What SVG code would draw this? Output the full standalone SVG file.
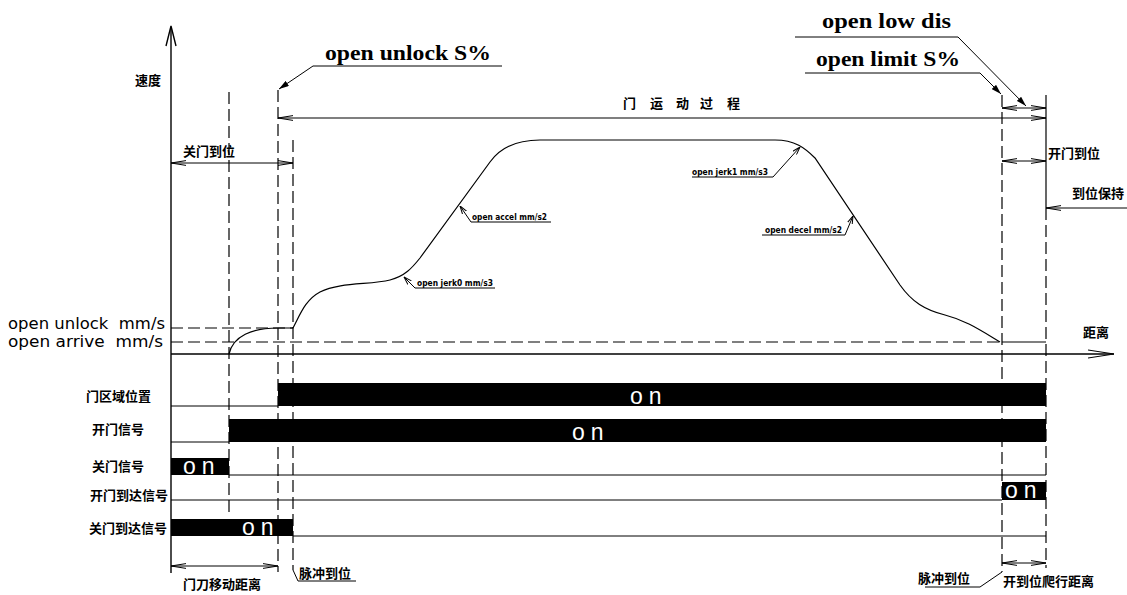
<svg xmlns="http://www.w3.org/2000/svg" width="1127" height="595" viewBox="0 0 1127 595">
<defs>
<style>
.ln{stroke:#000;stroke-width:1.2;fill:none}
.ax{stroke:#000;stroke-width:1.4;fill:none}
.ds{stroke:#000;stroke-width:1.2;fill:none;stroke-dasharray:12 5}
.th{stroke:#000;stroke-width:1;fill:none}
.bar{fill:#000}
.cn{font-family:"Noto Sans CJK SC","Noto Sans",sans-serif;font-size:13px;font-weight:bold;fill:#000}
.big{font-family:"Liberation Serif",serif;font-size:22px;fill:#000;font-weight:bold}
.sm{font-family:"DejaVu Sans",sans-serif;font-size:8px;font-weight:bold;fill:#000}
.lv{font-family:"DejaVu Sans",sans-serif;font-size:15px;fill:#000}
.on{font-family:"Liberation Sans",sans-serif;font-size:23px;fill:#fff;letter-spacing:6px}
</style>
<marker id="oa" viewBox="0 0 15 6" refX="15" refY="3" markerWidth="15" markerHeight="6" markerUnits="userSpaceOnUse" orient="auto-start-reverse">
<path d="M0,0.6 L15,3 L0,5.4" fill="none" stroke="#000" stroke-width="1"/>
</marker>
<marker id="fa" viewBox="0 0 10 6" refX="10" refY="3" markerWidth="10" markerHeight="6" markerUnits="userSpaceOnUse" orient="auto">
<path d="M0,0 L10,3 L0,6 z" fill="#000"/>
</marker>
<marker id="sa" viewBox="0 0 8 6" refX="8" refY="3" markerWidth="8" markerHeight="6" markerUnits="userSpaceOnUse" orient="auto">
<path d="M0,0.5 L8,3 L0,5.5" fill="none" stroke="#000" stroke-width="1"/>
</marker>
<marker id="axa" viewBox="0 0 26 10" refX="26" refY="5" markerWidth="26" markerHeight="10" markerUnits="userSpaceOnUse" orient="auto">
<path d="M0,1 L26,5 L0,9" fill="none" stroke="#000" stroke-width="1.2"/>
</marker>
</defs>
<rect width="1127" height="595" fill="#fff"/>

<g id="axes">
<line class="ax" x1="171" y1="573" x2="171" y2="27"/>
<path class="ax" d="M166,46 L171,26 L176,46"/>
<line class="ax" x1="171" y1="354" x2="1114" y2="354" marker-end="url(#axa)"/>
<text class="cn" x="135" y="85">速度</text>
<text class="cn" x="1083" y="337">距离</text>
</g>

<g id="connectors">
<line class="ds" x1="229" y1="92" x2="229" y2="515"/>
<line class="ds" x1="278" y1="90" x2="278" y2="572"/>
<line class="ds" x1="293" y1="140" x2="293" y2="570"/>
<polyline class="th" points="293,570 298,581 356,581"/>
<line class="ds" x1="1002" y1="95" x2="1002" y2="572"/>
<polyline class="th" points="925,587 980,587 1002,572"/>
<line class="ln" x1="1046" y1="95" x2="1046" y2="208"/>
<line class="ds" x1="1046" y1="208" x2="1046" y2="568"/>
<line class="ds" x1="171" y1="328" x2="293" y2="328"/>
<line class="ds" x1="171" y1="342" x2="1002" y2="342"/>
<line class="ln" x1="1002" y1="342" x2="1046" y2="342"/>

<line class="th" x1="171" y1="163" x2="293" y2="163" marker-start="url(#oa)" marker-end="url(#oa)"/>
<line class="ln" x1="278" y1="118" x2="1046" y2="118" marker-start="url(#oa)" marker-end="url(#oa)"/>
<line class="th" x1="1002" y1="108" x2="1046" y2="108" marker-start="url(#oa)" marker-end="url(#oa)"/>
<line class="th" x1="1002" y1="161" x2="1046" y2="161" marker-start="url(#oa)" marker-end="url(#oa)"/>
<line class="th" x1="1127" y1="208" x2="1046" y2="208" marker-end="url(#oa)"/>
<line class="th" x1="171" y1="566" x2="278" y2="566" marker-start="url(#oa)" marker-end="url(#oa)"/>
<line class="th" x1="1002" y1="563" x2="1046" y2="563" marker-start="url(#oa)" marker-end="url(#oa)"/>

<polyline class="th" points="502,66 313,66 279,89" marker-end="url(#fa)"/>
<polyline class="th" points="795,37 958,37 1026,106" marker-end="url(#fa)"/>
<polyline class="th" points="805,73 980,73 1001,94" marker-end="url(#fa)"/>
<polyline class="th" points="495,288 415,288 404,277" marker-end="url(#sa)"/>
<polyline class="th" points="551,222 471,222 460,206" marker-end="url(#sa)"/>
<polyline class="th" points="692,177 773,177 800,147" marker-end="url(#sa)"/>
<polyline class="th" points="762,235 845,235 853,216" marker-end="url(#sa)"/>
</g>

<g id="curve">
<path class="ln" d="M229,354 C233,336 252,328 278,328 L293,328 C300,315 305,300 320,292 C340,282 370,285 390,280 C405,276 412,268 420,258 L490,162 C500,148 515,140 540,140 L775,140 C795,140 805,148 815,158 L900,285 C912,302 925,310 945,315 C965,320 980,330 1000,342"/>
</g>

<g id="labels">
<text class="big" x="325" y="60" textLength="166" lengthAdjust="spacingAndGlyphs">open unlock S%</text>
<text class="big" x="822" y="28" textLength="129" lengthAdjust="spacingAndGlyphs">open low dis</text>
<text class="big" x="816" y="66" textLength="144" lengthAdjust="spacingAndGlyphs">open limit S%</text>
<text class="cn" font-size="12" x="623 650 676 700 727" y="108">门运动过程</text>
<text class="cn" x="183" y="156">关门到位</text>
<text class="cn" font-size="12.5" x="1048" y="158">开门到位</text>
<text class="cn" font-size="12.5" x="1072" y="198">到位保持</text>
<text class="sm" x="417" y="286" textLength="76" lengthAdjust="spacingAndGlyphs">open jerk0 mm/s3</text>
<text class="sm" x="472" y="220" textLength="75" lengthAdjust="spacingAndGlyphs">open accel mm/s2</text>
<text class="sm" x="692" y="175" textLength="76" lengthAdjust="spacingAndGlyphs">open jerk1 mm/s3</text>
<text class="sm" x="765" y="233" textLength="77" lengthAdjust="spacingAndGlyphs">open decel mm/s2</text>
<text class="lv" x="8" y="329" textLength="157" lengthAdjust="spacingAndGlyphs">open unlock&#160; mm/s</text>
<text class="lv" x="8" y="347" textLength="155" lengthAdjust="spacingAndGlyphs">open arrive&#160; mm/s</text>
<text class="cn" x="183" y="589">门刀移动距离</text>
<text class="cn" x="299" y="578">脉冲到位</text>
<text class="cn" x="918" y="583">脉冲到位</text>
<text class="cn" x="1003" y="586">开到位爬行距离</text>
</g>

<g id="row-zone">
<text class="cn" x="86" y="401">门区域位置</text>
<line class="th" x1="171" y1="406" x2="278" y2="406"/>
<rect class="bar" x="278" y="383" width="768" height="23"/>
<text class="on" x="630" y="404">on</text>
</g>
<g id="row-open">
<text class="cn" x="92" y="434">开门信号</text>
<line class="th" x1="171" y1="442" x2="229" y2="442"/>
<rect class="bar" x="229" y="419" width="817" height="23"/>
<text class="on" x="572" y="440">on</text>
</g>
<g id="row-close">
<text class="cn" x="92" y="471">关门信号</text>
<rect class="bar" x="171" y="458" width="58" height="17"/>
<line class="th" x1="229" y1="475" x2="1046" y2="475"/>
<text class="on" x="183" y="474">on</text>
</g>
<g id="row-open-arrive">
<text class="cn" x="90" y="500">开门到达信号</text>
<line class="th" x1="171" y1="500" x2="1002" y2="500"/>
<rect class="bar" x="1002" y="482" width="44" height="18"/>
<text class="on" x="1005" y="498">on</text>
</g>
<g id="row-close-arrive">
<text class="cn" x="89" y="533">关门到达信号</text>
<rect class="bar" x="171" y="519" width="122" height="17"/>
<line class="th" x1="293" y1="536" x2="1046" y2="536"/>
<text class="on" x="242" y="535">on</text>
</g>
</svg>
